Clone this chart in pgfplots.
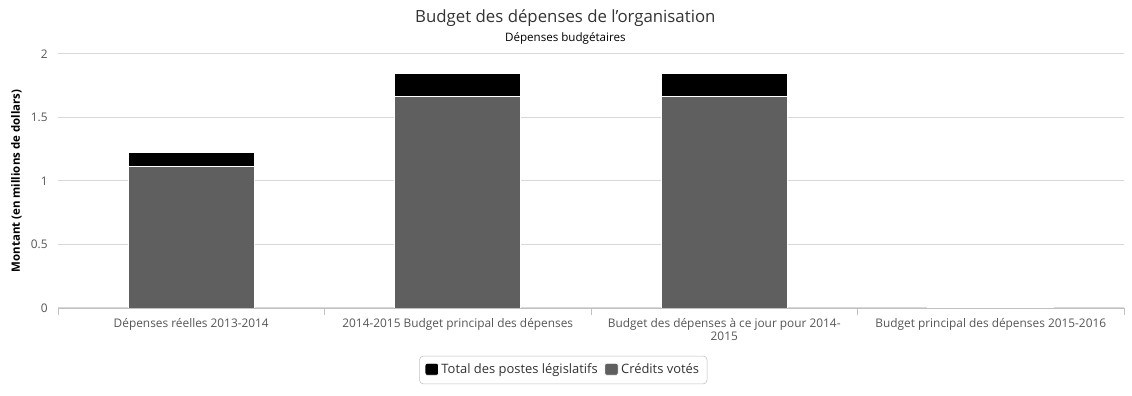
\documentclass[border=0pt]{standalone}
\usepackage{fontspec}
\setmainfont{Open Sans}
\usepackage{pgfplots}
\pgfplotsset{compat=1.18}
\definecolor{votes}{HTML}{5F5F5F}
\definecolor{gridc}{HTML}{D8D8D8}
\definecolor{txt}{HTML}{333333}
\definecolor{ticktxt}{HTML}{555555}
\definecolor{axc}{HTML}{C0C0C0}
\begin{document}
\begin{tikzpicture}
\useasboundingbox (0pt,0pt) rectangle (849pt,297pt);
\node[font=\fontsize{12.6}{15}\selectfont, text=txt] at (424pt,283.5pt) {Budget des dépenses de l’organisation};
\node[font=\fontsize{8.7}{10}\selectfont, text=black] at (424pt,268.3pt) {Dépenses budgétaires};
\begin{axis}[
  at={(43.5pt,66pt)}, anchor=south west,
  width=799.5pt, height=190.5pt, scale only axis,
  ybar stacked, bar width=0.473,
  xmin=-0.5, xmax=3.5, ymin=0, ymax=2,
  axis x line=bottom, axis y line=left,
  axis line style={-},
  x axis line style={draw=axc},
  y axis line style={draw=none},
  ytick={0,0.5,1,1.5,2},
  yticklabels={0,0.5,1,1.5,2},
  ytick style={draw=none},
  xtick={0,1,2,3},
  xtick style={draw=none},
  minor xtick={-0.5,0.5,1.5,2.5,3.5},
  minor x tick style={draw=axc},
  minor tick length=5pt,
  tick align=outside,
  xticklabels={Dépenses réelles 2013-2014, 2014-2015 Budget principal des dépenses, Budget des dépenses à ce jour pour 2014-\\2015, Budget principal des dépenses 2015-2016},
  xticklabel style={font=\fontsize{8.9}{10}\selectfont, text=ticktxt, align=center},
  yticklabel style={font=\fontsize{8.9}{10}\selectfont, text=ticktxt},
  ymajorgrids, major grid style={draw=gridc, line width=0.75pt},
  ylabel={\bfseries Montant (en millions de dollars)},
  ylabel style={font=\fontsize{8.6}{10}\selectfont},
  every axis plot/.append style={draw=white, line width=0.5pt},
  legend columns=2,
  reverse legend,
  legend style={at={(0.474,-0.244)}, anchor=center, draw=axc, rounded corners=3pt,
    font=\fontsize{9.7}{11}\selectfont, text=txt, inner xsep=4pt, inner ysep=4pt,
    /tikz/every even column/.append style={column sep=3pt}},
  legend image code/.code={\fill[#1, rounded corners=1.5pt] (0pt,-4pt) rectangle (10pt,5pt);},
]
\addplot[fill=votes] coordinates {(0,1.118) (1,1.668) (2,1.668) (3,0.006)};
\addplot[fill=black] coordinates {(0,0.11) (1,0.181) (2,0.181) (3,0)};
\legend{Crédits votés, Total des postes législatifs}
\end{axis}
\end{tikzpicture}
\end{document}
